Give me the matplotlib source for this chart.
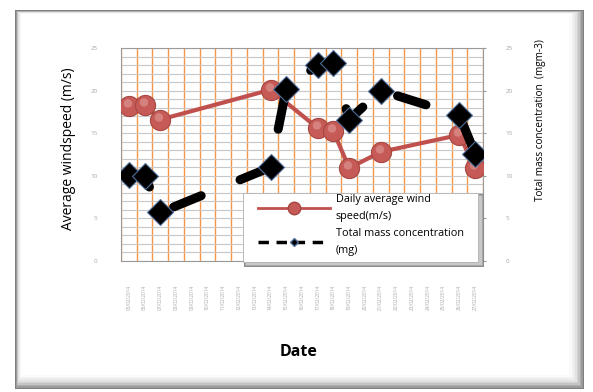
import numpy as np
import matplotlib.pyplot as plt
from matplotlib.lines import Line2D
from matplotlib.patches import Rectangle
from matplotlib.path import Path

plt.rcParams['font.family'] = ['Open Sans', 'DejaVu Sans']

dates = ['05/02/2014', '06/02/2014', '07/02/2014', '08/02/2014', '09/02/2014',
         '10/02/2014', '11/02/2014', '12/02/2014', '13/02/2014', '14/02/2014',
         '15/02/2014', '16/02/2014', '17/02/2014', '18/02/2014', '19/02/2014',
         '20/02/2014', '21/02/2014', '22/02/2014', '23/02/2014', '24/02/2014',
         '25/02/2014', '26/02/2014', '27/02/2014']

# days that have a reading (index into dates)
wind_idx = [0, 1, 2, 9, 12, 13, 14, 16, 21, 22]
wind_speed = [18.2, 18.3, 16.6, 20.1, 15.6, 15.2, 10.9, 12.8, 14.8, 10.9]

mass_idx = [0, 1, 2, 9, 10, 12, 13, 14, 16, 21, 22]
mass_conc = [10.1, 10.0, 5.7, 11.0, 20.2, 23.0, 23.2, 16.6, 20.0, 17.1, 12.6]

red = '#c0504d'
orange = '#f79646'

fig = plt.figure(figsize=(5.93, 3.92), dpi=100)

# pixel-based rectangles in figure space (frame, legend box)
W, H = 593.0, 392.0
def frect(x0, y0, x1, y1, **kw):
    r = Rectangle((x0 / W, 1 - y1 / H), (x1 - x0) / W, (y1 - y0) / H,
                  transform=fig.transFigure, **kw)
    fig.patches.append(r)
    return r

# bevelled outer frame
frect(15, 10, 584, 389, facecolor='#7f7f7f', edgecolor='none', zorder=-10)
shades = ['#9a9a9a', '#b0b0b0', '#c4c4c4', '#d4d4d4', '#e2e2e2', '#ececec', '#f4f4f4', '#fafafa']
for i, c in enumerate(shades):
    frect(16 + i * 0.6, 11 + i * 0.3, 583 - i * 1.6, 388 - i * 1.6, facecolor=c,
          edgecolor='none', zorder=-10 + 0.1 * (i + 1))
frect(22, 14, 569, 375, facecolor='white', edgecolor='none', zorder=-9)

ax = fig.add_axes([121 / W, 1 - 261 / H, 362 / W, 213 / H])
x = np.arange(len(dates))
ax.set_xlim(-0.5, len(dates) - 0.5)
ax.set_ylim(0, 25)
ax.set_yticks(np.arange(0, 26, 5))
ax.set_yticks(np.arange(0, 26, 1), minor=True)
ax.set_xticks(x)
ax.set_xticks(np.arange(-0.5, len(dates), 1), minor=True)
ax.set_xticklabels(dates, rotation=90, fontsize=3.4, color='#a6a6a6')
ax.tick_params(axis='x', which='both', length=0, pad=17)
ax.tick_params(axis='y', which='both', length=0, pad=17, labelsize=4.5, labelcolor='#a6a6a6')
ax.grid(axis='y', which='both', color='#c8c8c8', lw=0.8)
ax.grid(axis='x', which='minor', color=orange, lw=1.0)
ax.grid(axis='x', which='major', visible=False)
ax.set_axisbelow(True)
for s in ax.spines.values():
    s.set_color('#9a9a9a')
    s.set_linewidth(0.8)

ax.plot(wind_idx, wind_speed, color=red, lw=3, marker='o', ms=14.5,
        markerfacecolor='#c65a56', markeredgecolor='#a64643', markeredgewidth=0.8, zorder=3)

# sphere highlight: small light disc in the upper-left of each marker
circ = Path.circle(center=(-0.15, 0.3), radius=0.42)
hl_verts = np.vstack([circ.vertices, [[-1, -1], [1, 1]]])
hl_codes = np.concatenate([circ.codes, [Path.MOVETO, Path.MOVETO]])
highlight = Path(hl_verts, hl_codes)
ax.plot(wind_idx, wind_speed, linestyle='none', marker=highlight, ms=14.5,
        markerfacecolor='#e3a3a0', markeredgewidth=0, alpha=0.55, zorder=3.1)

ax2 = ax.twinx()
ax2.set_ylim(0, 25)
ax2.set_yticks(np.arange(0, 26, 5))
ax2.tick_params(axis='y', length=2, color='#9a9a9a', pad=14, labelsize=4.5, labelcolor='#a6a6a6')
for s in ax2.spines.values():
    s.set_visible(False)

# long-dash line: ~30 px on, ~42 px off at 9 px width
ax2.plot(mass_idx, mass_conc, color='black', lw=6.5, linestyle=(0.2, (3.3, 4.65)),
         dash_capstyle='round', zorder=2)
ax2.plot(mass_idx, mass_conc, linestyle='none', marker='D', ms=13,
         markerfacecolor='black', markeredgecolor='#4f6f9a', markeredgewidth=0.8, zorder=4)

fig.text(68 / W, 1 - 149 / H, 'Average windspeed (m/s)', rotation=90,
         ha='center', va='center', fontsize=10)
fig.text(541 / W, 1 - 120 / H, 'Total mass concentration  (mgm-3)', rotation=90,
         ha='center', va='center', fontsize=7.2)
fig.text(299 / W, 1 - 352 / H, 'Date', ha='center', va='center', fontsize=11.5,
         fontweight='bold')

# legend box with a soft bevel shadow on the right and bottom
for i, c in enumerate(['#8c8c8c', '#a8a8a8', '#c8c8c8']):
    frect(244 + i, 194 + i, 484 - i, 267 - i, facecolor=c, edgecolor='none', zorder=5)
frect(243, 193, 478, 262, facecolor='white', edgecolor='#b0b0b0', lw=0.6, zorder=5.5)

h1 = Line2D([], [], color=red, lw=2, marker='o', ms=9, markerfacecolor='#c65a56',
            markeredgecolor='#a64643')
h2 = Line2D([], [], color='black', lw=2.5, linestyle=(0, (3, 2.2)), marker='D', ms=4,
            markerfacecolor='black', markeredgecolor='#4f6f9a')
leg = fig.legend([h1, h2], ['Daily average wind\nspeed(m/s)', 'Total mass concentration\n(mg)'],
                 loc='upper left', bbox_to_anchor=(258 / W, 1 - 194 / H),
                 fontsize=7.8, handlelength=6.6, labelspacing=0.55, borderpad=0,
                 handletextpad=0.6, borderaxespad=0, frameon=False)
for t in leg.get_texts():
    t.set_linespacing(1.75)
leg.set_zorder(10)

fig.savefig('out.png', dpi=100)
